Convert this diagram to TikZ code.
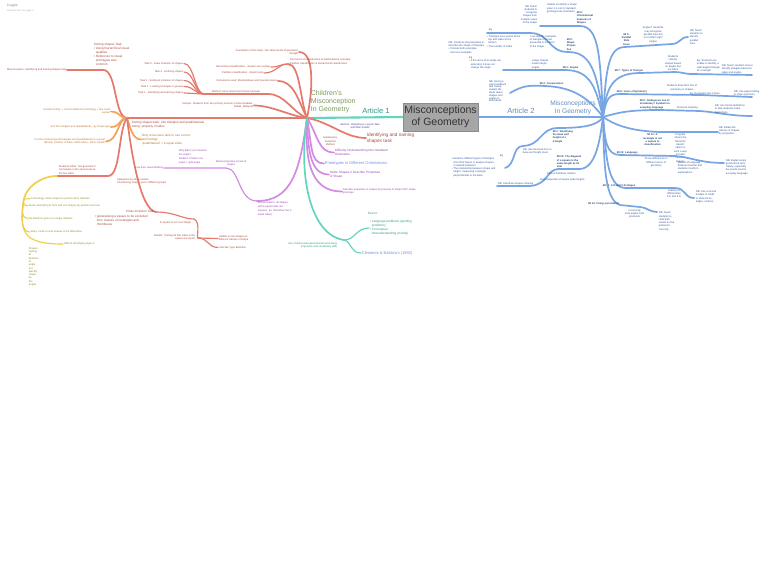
\documentclass[tikz,border=0pt]{standalone}
\usepackage{fontspec}
\setmainfont{Liberation Sans}

\definecolor{brRed}{HTML}{E4796C}
\definecolor{brOrange}{HTML}{F2A25A}
\definecolor{brYellow}{HTML}{EDCF4E}
\definecolor{brPurple}{HTML}{D38BE4}
\definecolor{brTeal}{HTML}{62D5BE}
\definecolor{brBlue}{HTML}{78A5E4}
\definecolor{txRed}{HTML}{A8493E}
\definecolor{txOrange}{HTML}{B87430}
\definecolor{txYellow}{HTML}{948A2C}
\definecolor{txPurple}{HTML}{9646AE}
\definecolor{txTeal}{HTML}{2E9884}
\definecolor{txBlue}{HTML}{34589A}
\definecolor{txOlive}{HTML}{7E9A5E}
\definecolor{txPeri}{HTML}{7D8CE6}
\definecolor{txAuth}{HTML}{4B3B8B}

\tikzset{every picture/.style={line width=0.75pt},
  tx/.style={inner sep=0.5pt, font=\fontsize{2.6}{3.3}\selectfont, align=left},
  txm/.style={inner sep=0.5pt, font=\fontsize{3.1}{4}\selectfont, align=left},
  txl/.style={inner sep=0.5pt, font=\fontsize{4}{5}\selectfont, align=left},
  txbb/.style={tx, font=\fontsize{2.6}{3.3}\selectfont\bfseries, text=txBlue!75!black},
  br/.style={line width=1.7pt, line cap=round},
  sub/.style={line width=1.15pt, line cap=round},
  rootbox/.style={fill=black!35, draw=black!45, line width=0.4pt, text=black!80, minimum width=75, minimum height=28, inner sep=1pt, align=center, font=\fontsize{10.5}{12.5}\selectfont}
}

\begin{document}
\begin{tikzpicture}[x=1pt,y=1pt,yscale=-1,xscale=1]
\fill[white] (0,0) rectangle (768,574);
\path[use as bounding box] (0,0) rectangle (768,574);

% Text Node
\node[anchor=north west, inner sep=0.5pt, text=black!45, font=\fontsize{3.4}{4}\selectfont] (cog) at (6,3) {Coggle};
\node[anchor=north west, inner sep=0.5pt, text=black!30, font=\fontsize{2.4}{3}\selectfont] (cogs) at (6,9) {made for free at coggle.it};

%Shape: root
\node[rootbox] (root) at (440.5,117) {Misconceptions\\of Geometry};
\coordinate (hubA) at (307,118);
\coordinate (hubB) at (603,117);
\draw[line width=2.1pt, draw=brTeal] (hubA) -- (root.west);
\draw[line width=2.5pt, draw=brBlue] (root.east) -- (hubB);

% Text Node
\node[inner sep=0.5pt, text=txTeal, font=\fontsize{7.5}{9}\selectfont] (art1) at (376,110.5) {Article 1};
\node[inner sep=0.5pt, text=brBlue!85!black, font=\fontsize{7.5}{9}\selectfont] (art2) at (521,110.5) {Article 2};
\node[anchor=north west, inner sep=0.5pt, text=txOlive, align=left, font=\fontsize{7}{8}\selectfont] (chl) at (310,90) {Children's\\Misconception\\In Geometry};
\node[inner sep=0.5pt, text=brBlue!85!black, align=center, font=\fontsize{6.6}{8}\selectfont] (mig) at (573,108) {Misconceptions\\In Geometry};

%Curve Lines: study background (red)
\node[tx, text=txRed, anchor=east, align=right] (fnd) at (299,52) {Foundation of the study: Van Hiele levels of geometric\\thought};
\draw[br, draw=brRed] (hubA) .. controls (312,95) and (316,52) .. (fnd.east);
\node[tx, text=txRed, anchor=west] (two) at (289,61.5) {Two forms of classification of mathematical concepts:\\Partition classification \& Hierarchical classification};
\coordinate (jtwo) at (288,64);
\draw[br, draw=brRed] (hubA) .. controls (300,100) and (300,64) .. (jtwo);
\node[tx, text=txRed, anchor=east] (hier) at (271,67) {Hierarchical classification - classes can overlap};
\node[tx, text=txRed, anchor=east] (part) at (264,73) {Partition classification - disjoint sets};
\draw[sub, draw=brRed] (jtwo) .. controls (280,64) and (280,67) .. (hier.east);
\draw[sub, draw=brRed] (jtwo) .. controls (278,64) and (276,73) .. (part.east);
\node[tx, text=txRed, anchor=east] (inst) at (278,81) {Instruments used: Manipulatives and Questionnaires};
\draw[br, draw=brRed] (hubA) .. controls (298,100) and (294,81) .. (inst.east);
\node[tx, text=txRed, anchor=south west] (meth) at (211,93) {Method: Semi-structured clinical interview};
\coordinate (jmeth) at (204,94);
\draw[br, draw=brRed] (hubA) .. controls (292,112) and (285,94) .. (268,94) -- (jmeth);

% Text Node: tasks
\node[tx, text=txRed, anchor=east] (t5) at (184,63.5) {Task 5 - Draw inclusion of shapes};
\node[tx, text=txRed, anchor=east] (t4) at (184,72) {Task 4 - Defining shapes};
\node[tx, text=txRed, anchor=east] (t3) at (184,80.5) {Task 3 - Sorting \& inclusion of shapes};
\node[tx, text=txRed, anchor=east] (t2) at (184,86.5) {Task 2 - Looking at shapes in groups};
\node[tx, text=txRed, anchor=east] (t1) at (184,93) {Task 1 - Identifying and naming shapes};
\draw[sub, draw=brRed] (jmeth) .. controls (195,94) and (194,63.5) .. (t5.east);
\draw[sub, draw=brRed] (jmeth) .. controls (195,94) and (194,72) .. (t4.east);
\draw[sub, draw=brRed] (jmeth) .. controls (195,94) and (194,80.5) .. (t3.east);
\draw[sub, draw=brRed] (jmeth) .. controls (195,94) and (194,86.5) .. (t2.east);
\draw[sub, draw=brRed] (jmeth) -- (t1.east);

\node[tx, text=txRed, anchor=east, align=right] (smp) at (254,105.5) {Sample: Students from two primary schools in Kota Kinabalu,\\Sabah, Malaysia};
\draw[br, draw=brRed] (hubA) .. controls (290,116) and (272,105.5) .. (smp.east);

%Curve Lines: sorting task (red)
\coordinate (jsort) at (127,118);
\node[tx, text=txRed, anchor=east] (mis) at (67,70) {Misconception: identifying and naming shapes task};
\draw[br, draw=brRed] (hubA) -- (jsort) .. controls (114,117) and (117,72) .. (104,70) -- (mis.east);
\node[txm, text=txRed, anchor=north west] (srt) at (131,120) {Sorting shapes task: into triangles and quadrilaterals\\Using: property of sides};
\node[txm, text=txRed, anchor=north west] (sst) at (93,42) {Sorting shapes Task\\\textbullet\ Using hierarchical visual\\\hphantom{\textbullet\ }qualities\\\textbullet\ Reference to visual\\\hphantom{\textbullet\ }prototypes was\\\hphantom{\textbullet\ }common};

%Curve Lines: orange
\node[tx, text=txOrange, anchor=east, align=right] (ovr) at (111,111.5) {Overall sorting: + correct attribute terminology + few could\\explain};
\node[tx, text=txOrange, anchor=east] (sqt) at (111,127) {Sort the triangles and quadrilaterals - by shape type};
\node[tx, text=txOrange, anchor=east, align=right] (clr) at (106,141.5) {Put the clearest typical triangles and quadrilaterals in a group\\(Mostly: position of sides, tilted sides) - fail to explain};
\node[txm, text=txOrange, anchor=west] (few) at (141,139.5) {Only a few were able to use correct\\terminology\\`quadrilateral' = 4 equal sides};
\draw[br, draw=brOrange] (jsort) .. controls (119,118) and (121,112) .. (ovr.east);
\draw[br, draw=brOrange] (jsort) .. controls (119,118) and (121,127) .. (sqt.east);
\draw[br, draw=brOrange] (jsort) .. controls (118,118) and (118,141.5) .. (clr.east);
\draw[br, draw=brOrange] (jsort) .. controls (130,126) and (132,139.5) .. (few.west);

%Curve Lines: students / class inclusion (red)
\coordinate (jstu) at (57,176);
\node[tx, text=txRed, anchor=south west] (stu) at (58,175) {Students either: has guessed or\\connected on the same level as\\the two sides};
\draw[br, draw=brRed] (jsort) .. controls (118,130) and (121,176) .. (108,176) -- (jstu);
\node[tx, text=txRed, anchor=north west] (cat) at (116,177.5) {Categorize by shape states:\\`Intersecting' shapes put in different groups};
\coordinate (jcls) at (156,212);
\draw[br, draw=brRed] (jsort) .. controls (131,150) and (140,210) .. (jcls);
\node[txm, text=txRed, anchor=south east] (clt) at (155,213) {Class inclusion Task};
\node[txm, text=txRed, anchor=north west] (clb) at (94,214) {\textbullet\ generalising a square to be excluded\\\hphantom{\textbullet\ }from classes of rectangles and\\\hphantom{\textbullet\ }rhombuses};
\coordinate (jsq) at (194,219);
\draw[sub, draw=brRed] (jcls) .. controls (175,212) and (182,219) .. (jsq);
\node[tx, text=txRed, anchor=north east] (sq) at (192,220.5) {In square is not a rectangle};
\coordinate (jbel) at (198,238);
\draw[sub, draw=brRed] (jsq) .. controls (201,222) and (196,238) .. (jbel);
\node[tx, text=txRed, anchor=east, align=right] (bel) at (196,237.5) {Beliefs: `Sorting all four sides in the\\square are equal'};
\node[tx, text=txRed, anchor=west] (una) at (218,238.5) {Unable to see shapes as\\different classes of shape};
\node[tx, text=txRed, anchor=west] (jus) at (218,247.5) {`Just like' type definition};
\draw[sub, draw=brRed] (jbel) -- (una.west);
\draw[sub, draw=brRed] (jbel) .. controls (208,238) and (208,247.5) .. (jus.west);

%Curve Lines: yellow
\coordinate (jy) at (24,199);
\draw[br, draw=brYellow] (jstu) .. controls (40,176) and (26,188) .. (jy);
\node[tx, text=txYellow, anchor=west] (y1) at (30,198.7) {Confusingly rotate shapes to position their direction};
\node[tx, text=txYellow, anchor=west] (y2) at (28,205.7) {Some attempting to form and sort shapes by position and size};
\node[tx, text=txYellow, anchor=west] (y3) at (28,218.7) {No attention given to a single attribute};
\node[tx, text=txYellow, anchor=west] (y4) at (30,232) {Many could not see shapes in the tilted base};
\node[tx, text=txYellow, anchor=west] (y5) at (63,244) {Difficult identifying angle A};
\draw[sub, draw=brYellow] (jy) -- (y1.west);
\draw[sub, draw=brYellow] (jy) .. controls (22,203) and (24,205.7) .. (y2.west);
\draw[sub, draw=brYellow] (jy) .. controls (21,210) and (22,218.7) .. (y3.west);
\draw[sub, draw=brYellow] (jy) .. controls (20,220) and (22,232) .. (y4.west);
\draw[sub, draw=brYellow] (jy) .. controls (19,232) and (22,244) .. (y5.west);
\node[tx, text=txYellow, anchor=north west] (ycol) at (28,246.5) {Shapes\\looking\\at\\direction\\of\\angle\\not\\identify\\shape\\by\\the\\angles};

%Curve Lines: purple
\coordinate (jpm) at (257,201);
\coordinate (jpv) at (226,168);
\node[tx, text=txPurple, anchor=north west, font=\fontsize{2.6}{3.8}\selectfont] (pm) at (257,201) {Misconception: all shapes\\with 4 equal sides are\\squares. (ie. Rhombus has 4\\equal sides)};
\node[tx, text=txPurple, anchor=east] (vis) at (164,168) {Use their visual thinking};
\node[tx, text=txPurple, anchor=north west, font=\fontsize{2.6}{4}\selectfont] (why) at (178,148.5) {Why didn't you measure\\the angle?\\Student: It takes one\\equal + right angle};
\node[tx, text=txPurple, anchor=south west, align=center] (mix) at (215,167) {Mixed properties to look at\\angles};
\draw[br, draw=brPurple] (hubA) .. controls (300,170) and (292,201) .. (jpm);
\draw[sub, draw=brPurple] (jpm) .. controls (238,201) and (240,168) .. (jpv) -- (vis.east);

\node[tx, text=txRed, anchor=north east, align=center] (exp) at (338,136) {Explanatory\\analytical\\Method};
\node[txm, text=txPurple, anchor=west] (dif) at (334,152.5) {Difficulty Understanding Non-Standard\\Orientation};
\node[txl, text=txPeri, anchor=west] (pro) at (324,163.5) {Prototypes in Different Orientations};
\node[txm, text=txPurple, anchor=west] (nam) at (329,174.5) {Name Shapes ≠ Describe Properties\\of Shape};
\node[tx, text=txPurple, anchor=west] (des) at (342,191.5) {Describe properties of shapes by property of shape NOT shape\\prototype};
\draw[br, draw=brPurple] (hubA) .. controls (318,135) and (318,152.5) .. (dif.west);
\draw[br, draw=brPurple] (hubA) .. controls (312,145) and (310,163.5) .. (pro.west);
\draw[br, draw=brPurple] (hubA) .. controls (308,150) and (310,174.5) .. (nam.west);
\draw[br, draw=brPurple] (hubA) .. controls (304,170) and (315,191.5) .. (des.west);

%Curve Lines: article 1 task
\node[tx, text=txAuth, anchor=north, align=center] (aut) at (360,122.5) {Authors: Humphreys, Lyeyas Wan\\and Wan Suhaili};
\node[inner sep=0.5pt, text=txRed, anchor=west, align=left, font=\fontsize{4.7}{5.8}\selectfont] (idn) at (366,138) {Identifying and naming\\shapes task};
\draw[br, draw=brRed] (hubA) .. controls (330,122) and (345,138) .. (idn.west);

%Curve Lines: teal
\coordinate (jte) at (344,240);
\draw[br, draw=brTeal] (hubA) .. controls (298,175) and (310,235) .. (jte);
\node[txm, text=txTeal, anchor=west] (due) at (367,213) {Due to:};
\node[txm, text=txTeal, anchor=west] (dbl) at (369,228) {\textbullet\ Language problems (spelling\\\hphantom{\textbullet\ }problems)\\\textbullet\ Conceptual\\\hphantom{\textbullet\ }misunderstanding (mostly)};
\draw[sub, draw=brTeal] (jte) .. controls (355,240) and (356,228) .. (dbl.west);
\node[txl, text=txPeri, anchor=west] (cle) at (361,253) {Clements \& Battista's (1992)};
\draw[sub, draw=brTeal] (jte) .. controls (352,242) and (350,253) .. (cle.west);
\node[tx, text=txTeal, anchor=east, align=right] (use) at (338,245) {Use of improvised geometrical terminology\\(improvise and vocabulary skill)};

%Curve Lines: blue, upper left
\coordinate (jb6) at (540,26);
\draw[br, draw=brBlue] (hubB) .. controls (600,60) and (600,26) .. (580,26) -- (jb6);
\node[txbb, anchor=south west] (mi6) at (576,25) {Mi 6:\\Orientational\\Features of\\Shapes};
\node[tx, text=txBlue, anchor=south west] (un6) at (546,14) {Unable to identify a shape\\when it is not in standard\\(prototypical) orientation};
\node[tx, text=txBlue, anchor=south east, align=right] (nb6) at (538,25) {NB: Teach\\students to\\recognise\\shapes from\\multiple views\\of the shape};

\coordinate (jb2) at (487,33);
\draw[br, draw=brBlue] (hubB) .. controls (597,70) and (590,52) .. (568,52) .. controls (548,52) and (550,33) .. (530,33) -- (jb2);
\node[txbb, anchor=south west] (mi2) at (566,51) {Mi 2:\\Shape\\Proper-\\ties};
\node[tx, text=txBlue, anchor=north west] (cid) at (529,34.5) {I can identify examples\\of triangles that are\\presented in the form\\of the shape};
\node[tx, text=txBlue, anchor=south west] (eg2) at (488,32) {Eg};
\node[tx, text=txBlue, anchor=north west] (bl2) at (486,34.5) {\textbullet\ Triangles have points at the\\\hphantom{\textbullet\ }top and sides at the\\\hphantom{\textbullet\ }bottom\\\textbullet\ The number of sides};
\node[tx, text=txBlue, anchor=north east] (nb2) at (485,40.5) {NB: Introduce the properties to\\describe the shape of triangles\\\textbullet\ Provide both examples\\\hphantom{\textbullet\ }and non-examples};

\coordinate (jb3) at (503,70);
\draw[br, draw=brBlue] (hubB) .. controls (596,90) and (592,70) .. (565,70) -- (jb3);
\node[txbb, anchor=south west] (mi3) at (562,70) {Mi 3: Angles};
\node[tx, text=txBlue, anchor=south west] (lrg) at (531,69.5) {Larger shapes\\means larger\\angles};
\node[tx, text=txBlue, anchor=north east] (nb3) at (502,56) {Eg\\\textbullet\ If the arms of an angle are\\\hphantom{\textbullet\ }extended, it does not\\\hphantom{\textbullet\ }change the angle};

\coordinate (jb4) at (510,93);
\draw[br, draw=brBlue] (hubB) .. controls (590,100) and (575,87) .. (545,86) .. controls (528,85) and (522,86) .. (jb4);
\node[txbb, anchor=south west] (mi4) at (539,85.5) {Mi 4: Conservation};
\node[tx, text=txBlue, anchor=north east, font=\fontsize{2.6}{2.8}\selectfont] (nb4) at (507,79.5) {NB: Giving a\\good feedback\\and clearly\\explain the\\ideas about\\shapes and\\angles to\\build ideas};

%Curve Lines: blue, right
\coordinate (jb5) at (688,37);
\draw[br, draw=brBlue] (hubB) .. controls (606,70) and (608,47) .. (625,47) -- (672,44) .. controls (680,44) and (680,37) .. (jb5);
\node[txbb, anchor=south west, align=center] (mi5) at (621,46) {Mi 5:\\Parallel\\Side\\Lines};
\node[tx, text=txBlue, anchor=south west, align=center] (st5) at (642,43.5) {Angles? Students\\may recognise\\parallel lines but\\not confirm right\\angles};
\node[tx, text=txBlue, anchor=west] (nb5) at (689,37) {NB: Teach\\students to\\identify\\parallel\\lines};

\coordinate (jb7) at (752,75);
\draw[br, draw=brBlue] (hubB) .. controls (606,88) and (612,73) .. (640,73) -- (675,72) .. controls (682,72) and (684,74) .. (692,74) -- (jb7);
\node[txbb, anchor=south west] (mi7) at (614,72.5) {Mi 7: Types of Triangle};
\node[tx, text=txBlue, anchor=south west, align=center] (cl7) at (664,71.5) {Students\\classify\\shapes based\\on angles but\\not sides};
\node[tx, text=txBlue, anchor=south west] (eg7) at (696,73) {Eg: Students are\\unable to identify a\\right-angled triangle\\as a triangle};
\node[tx, text=txBlue, anchor=south west] (nb7) at (721,74.5) {NB: Teach students how to\\identify triangles based on\\sides and angles};

\coordinate (jb8) at (752,97);
\draw[br, draw=brBlue] (hubB) .. controls (606,100) and (608,94) .. (620,94) -- (700,95) -- (jb8);
\node[txbb, anchor=south west] (mi8) at (616,93.5) {Mi 8: Lines of Symmetry};
\node[tx, text=txBlue, anchor=south west, align=center] (dr8) at (666,91.5) {Students draw their line of\\symmetry in shapes};
\node[tx, text=txBlue, anchor=south west] (eg8) at (689,95.5) {Eg: Rectangle has 2 lines};
\node[tx, text=txBlue, anchor=south west] (nb8) at (733,97) {NB: Use paper folding\\to show symmetry};

\coordinate (jb9) at (752,116);
\draw[br, draw=brBlue] (hubB) .. controls (620,112) and (630,110) .. (660,110) -- (700,111) .. controls (715,112) and (730,116) .. (jb9);
\node[txbb, anchor=south west] (mi9) at (639,109.5) {Mi 9: Ambiguous use of\\Vocabulary / Symbols in\\everyday language};
\node[tx, text=txBlue, anchor=south west] (pm9) at (676,110) {Personal meaning};
\node[tx, text=txBlue, anchor=south west] (nb9) at (714,114) {NB: Use formal definitions\\to help students make\\distinctions};

\coordinate (jb11) at (718,132);
\draw[br, draw=brBlue] (hubB) .. controls (615,125) and (630,131) .. (660,132) -- (jb11);
\node[txbb, anchor=north west, align=center] (mi11) at (642,133) {Mi 11: A\\rectangle is not\\a square in\\classification};
\node[tx, text=txBlue, anchor=north west, align=center] (pg11) at (673,133) {Program\\shows the\\hierarchy\\classifi-\\cation in\\such a way\\to make\\sense of\\shapes};
\node[tx, text=txBlue, anchor=west] (nb11) at (718,131) {NB: Relate the\\classes of shapes\\by properties};

\coordinate (jb12) at (724,163);
\draw[br, draw=brBlue] (hubB) .. controls (605,140) and (606,155) .. (620,155) -- (675,156) .. controls (690,157) and (700,163) .. (jb12);
\node[txbb, anchor=south west] (mi12) at (616,154.5) {Mi 12: Language};
\node[tx, text=txBlue, anchor=north west, align=center] (kd12) at (644,157) {Know differences in\\different terms of\\geometry};
\node[tx, text=txBlue, anchor=north west] (sm12) at (677,160.5) {Misuse of language\\between teacher and\\students mostly in\\explanations};
\node[tx, text=txBlue, anchor=west] (nb12) at (725,167) {NB: Explain every\\geometrical term\\clearly, especially\\the words used in\\everyday language};

\coordinate (jb13) at (694,198);
\draw[br, draw=brBlue] (hubB) .. controls (606,150) and (606,187) .. (625,188) -- (675,188) .. controls (686,188) and (684,198) .. (jb13);
\node[txbb, anchor=south west] (mi13) at (602,187.5) {Mi 13: 2-D and 3-D shapes};
\node[tx, text=txBlue, anchor=north west, align=center] (in13) at (666,188.5) {Inability to\\differentiate\\2-D and 3-D};
\node[tx, text=txBlue, anchor=west] (nb13) at (695,197) {NB: Use concrete\\models of solids\\to show faces,\\edges, vertices};

\coordinate (jb14) at (657,212);
\draw[br, draw=brBlue] (hubB) .. controls (604,160) and (604,200) .. (620,205) -- (640,207) .. controls (648,208) and (650,212) .. (jb14);
\node[txbb, anchor=south east] (mi14) at (620,205.5) {Mi 14: Using a protractor};
\node[tx, text=txBlue, anchor=north west, align=center] (in14) at (624,208.5) {Incorrectly\\read angles from\\protractor};
\node[tx, text=txBlue, anchor=north west] (nb14) at (658,211) {NB: Teach\\students to\\read both\\scales on the\\protractor\\correctly};

%Curve Lines: blue, lower left
\coordinate (jb1) at (505,168);
\draw[br, draw=brBlue] (hubB) .. controls (598,125) and (585,128) .. (558,128) .. controls (540,128) and (542,145) .. (523,146) .. controls (512,146) and (516,165) .. (jb1);
\node[txbb, anchor=north west] (mi1) at (552,129.5) {Mi 1: Identifying\\the base and\\height of a\\triangle};
\node[tx, text=txBlue, anchor=north west] (nb1) at (522,147.5) {NB: Use the base line so\\base and height meet};
\node[tx, text=txBlue, anchor=west] (eg1) at (499,156) {Eg};
\node[tx, text=txBlue, anchor=north west] (bl1) at (451,157) {\textbullet\ Examine different types of triangles\\\hphantom{\textbullet\ }from their bases to analyse shapes\\\hphantom{\textbullet\ }in related problems\\\textbullet\ The relationship between shape and\\\hphantom{\textbullet\ }height: measuring a triangle\\\hphantom{\textbullet\ }perpendicular to the base};

\coordinate (jb10) at (497,186);
\draw[br, draw=brBlue] (hubB) .. controls (600,140) and (596,168) .. (580,169) -- (558,169) .. controls (548,170) and (548,180) .. (538,184) .. controls (534,186) and (532,186) .. (525,186) -- (jb10);
\node[txbb, anchor=south west] (mi10) at (556,168.5) {Mi 10: The diagonal\\of a square is the\\same length as its\\side};
\node[tx, text=txBlue, anchor=south west] (cf10) at (546,175) {Cannot find/draw relation};
\node[tx, text=txBlue, anchor=south west] (dd10) at (539,181.5) {Draw diagonals of square (side length)};
\node[tx, text=txBlue, anchor=south west] (nb10) at (497,185.5) {NB: Use/draw shapes showing};

\end{tikzpicture}
\end{document}
